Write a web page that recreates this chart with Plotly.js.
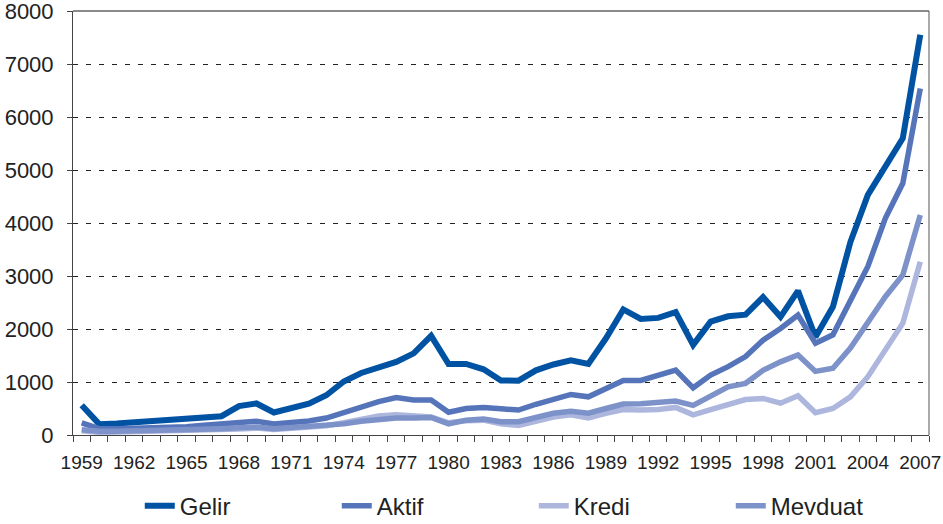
<!DOCTYPE html>
<html>
<head>
<meta charset="utf-8">
<script src="https://cdn.plot.ly/plotly-3.0.1.min.js"></script>
<style>html,body{margin:0;padding:0;background:#fff;}#chart{width:943px;height:524px;}</style>
</head>
<body>
<div id="chart"></div>
<script>
var years = [1959,1960,1961,1962,1963,1964,1965,1966,1967,1968,1969,1970,1971,1972,1973,1974,1975,1976,1977,1978,1979,1980,1981,1982,1983,1984,1985,1986,1987,1988,1989,1990,1991,1992,1993,1994,1995,1996,1997,1998,1999,2000,2001,2002,2003,2004,2005,2006,2007];
var labelYears = [1959,1962,1965,1968,1971,1974,1977,1980,1983,1986,1989,1992,1995,1998,2001,2004,2007];

var gelir = [560,205,215,240,265,280,290,330,355,545,595,425,505,590,750,1010,1170,1290,1380,1540,1870,1340,1340,1240,1030,1025,1220,1330,1410,1340,1820,2370,2190,2210,2320,1700,2140,2240,2270,2600,2230,2720,1850,2420,3640,4530,5040,5600,7550];
var aktif = [230,120,120,125,135,145,155,185,215,245,260,210,230,265,320,430,535,630,705,660,660,430,500,520,495,470,580,675,765,720,880,1030,1030,1120,1225,890,1130,1290,1480,1790,2010,2265,1730,1890,2550,3180,4090,4750,6540];
var kredi = [80,50,55,60,65,70,80,90,100,115,130,105,125,150,175,230,300,360,380,350,340,230,270,280,210,180,260,340,380,320,410,480,470,480,520,380,480,570,670,690,600,740,420,500,720,1100,1600,2110,3270];
var mevduat = [100,70,70,75,80,85,95,105,120,135,150,120,140,160,180,210,260,300,320,320,330,210,280,300,250,250,340,410,450,410,500,585,590,620,640,560,740,910,975,1220,1380,1510,1200,1260,1640,2110,2610,3020,4150];

var names = ['Gelir','Aktif','Kredi','Mevduat'];
var colors = ['#0052a3','#5674b9','#adb7de','#7d92c9'];
var widths = [6,5.5,5.5,5.5];
var series = [gelir, aktif, kredi, mevduat];

var traces = series.map(function(s, i){
  return {x: years, y: s, type: 'scatter', mode: 'lines', name: names[i],
          line: {color: colors[i], width: widths[i]}, hoverinfo: 'x+y'};
});

var layout = {
  width: 943, height: 524,
  margin: {l: 73, r: 14, t: 11, b: 89, autoexpand: false},
  paper_bgcolor: '#fff', plot_bgcolor: '#fff',
  font: {family: 'Liberation Sans, Arial, sans-serif', color: '#222'},
  showlegend: true,
  xaxis: {
    type: 'linear', range: [1958.5, 2007.5], fixedrange: true, automargin: false,
    tickmode: 'array', tickvals: labelYears, ticktext: labelYears.map(String),
    ticks: '', showgrid: false, zeroline: false,
    showline: true, linecolor: '#444', linewidth: 1,
    ticklabelstandoff: 10, ticklabeloverflow: 'allow',
    tickfont: {family: 'Liberation Sans, Arial', size: 19, color: '#222'},
    minor: {ticks: 'outside', ticklen: 6, tickcolor: '#444', tickwidth: 1, tick0: 1958.5, dtick: 1, showgrid: false}
  },
  yaxis: {
    range: [0, 8000], dtick: 1000, fixedrange: true, automargin: false,
    ticks: 'outside', ticklen: 5, tickcolor: '#444',
    showgrid: true, gridcolor: '#222', gridwidth: 1, griddash: '5px,8px',
    zeroline: false, showline: true, linecolor: '#444', linewidth: 1,
    ticklabelstandoff: 9, ticklabeloverflow: 'allow',
    tickfont: {family: 'Liberation Sans, Arial', size: 22, color: '#222'}
  },
  legend: {
    orientation: 'h', x: 0.078, xanchor: 'left', y: -0.168, yanchor: 'middle',
    font: {family: 'Liberation Sans, Arial', size: 24, color: '#222'},
    entrywidth: 152, entrywidthmode: 'pixels', traceorder: 'normal',
    borderwidth: 0
  },
  shapes: [
    {type: 'line', layer: 'above', xref: 'paper', yref: 'paper', x0: 0, x1: 1, y0: 1, y1: 1, line: {color: '#8a8a8a', width: 2}},
    {type: 'line', layer: 'above', xref: 'paper', yref: 'paper', x0: 1, x1: 1, y0: 0, y1: 1, line: {color: '#555', width: 1}}
  ]
};

Plotly.newPlot('chart', traces, layout, {displayModeBar: false, staticPlot: true});
</script>
</body>
</html>
